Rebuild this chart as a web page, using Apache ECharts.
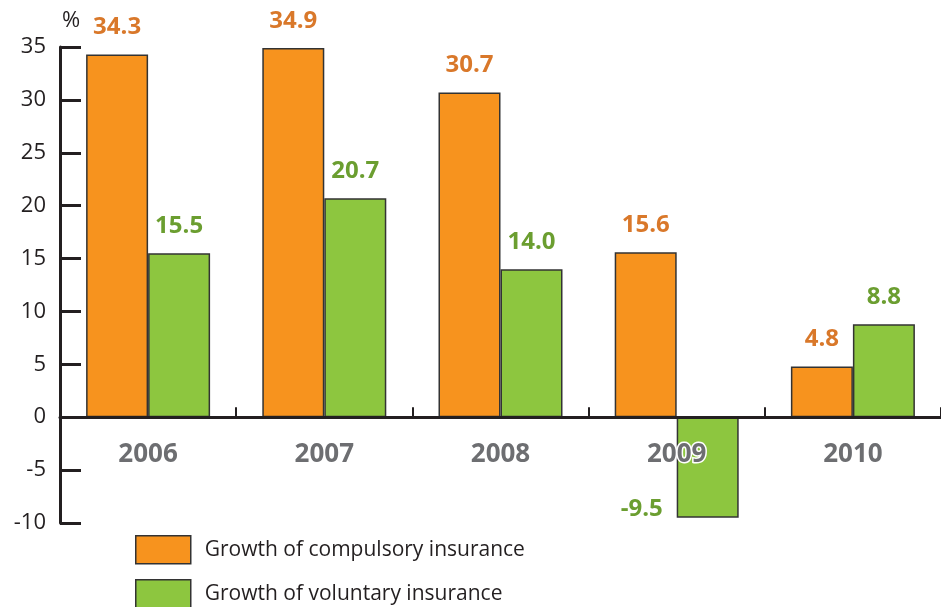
<!DOCTYPE html>
<html>
<head>
<meta charset="utf-8">
<script src="https://cdn.jsdelivr.net/npm/echarts@6/dist/echarts.min.js"></script>
<style>
  html, body { margin: 0; padding: 0; background: #fff; }
  #chart { width: 941px; height: 607px; }
</style>
</head>
<body>
<div id="chart"></div>
<script>
// Insurance premium growth by year, percent
const years = ['2006', '2007', '2008', '2009', '2010'];
const compulsory = [34.3, 34.9, 30.7, 15.6, 4.8];
const voluntary = [15.5, 20.7, 14.0, -9.5, 8.8];
const seriesNames = ['Growth of compulsory insurance', 'Growth of voluntary insurance'];

const FONT = '"Open Sans", sans-serif';
const ORANGE = '#f7931e';
const GREEN = '#8dc63f';
const ORANGE_TEXT = '#d9782a';
const GREEN_TEXT = '#6b9e30';
const INK = '#231f20';
const GRID = { left: 60, right: -2, top: 47, bottom: 84 };

const chart = echarts.init(document.getElementById('chart'));

function valueLabel(color) {
  return {
    show: true,
    position: 'top',
    distance: 15,
    color: color,
    fontFamily: FONT,
    fontWeight: 'bold',
    fontSize: 24,
    formatter: p => p.value.toFixed(1)
  };
}

// One legend block per series, stacked under the plot.
function legendRow(name, top) {
  return {
    orient: 'vertical',
    left: 135,
    top: top,
    padding: 0,
    itemWidth: 55,
    itemHeight: 28,
    selectedMode: false,
    textStyle: { fontFamily: FONT, fontSize: 21, color: INK, padding: [0, 0, 0, 9] },
    data: [{ name: name, icon: 'rect', itemStyle: { borderColor: '#333', borderWidth: 1.5 } }]
  };
}

chart.setOption({
  animation: false,
  textStyle: { fontFamily: FONT },
  grid: Object.assign({ containLabel: false }, GRID),
  legend: [legendRow(seriesNames[0], 535), legendRow(seriesNames[1], 579)],
  xAxis: {
    type: 'category',
    data: years,
    z: 10,
    axisLine: { onZero: false, lineStyle: { color: INK, width: 3 } },
    axisTick: { show: true, inside: true, length: 10, alignWithLabel: false, lineStyle: { color: INK, width: 2 } },
    axisLabel: {
      margin: 24,
      color: '#6d6e71',
      fontFamily: FONT,
      fontWeight: 'bold',
      fontSize: 26,
      textBorderColor: '#fff',
      textBorderWidth: 3
    },
    splitLine: { show: false }
  },
  yAxis: {
    type: 'value',
    min: -10,
    max: 35,
    interval: 5,
    name: '%',
    nameLocation: 'end',
    nameGap: 15,
    nameTextStyle: { fontFamily: FONT, fontSize: 22, color: INK, align: 'left', padding: [0, 0, 0, 2] },
    axisLine: { show: true, lineStyle: { color: INK, width: 3 } },
    axisTick: { show: true, inside: true, length: 21, lineStyle: { color: INK, width: 3 } },
    axisLabel: { margin: 14, color: INK, fontFamily: FONT, fontSize: 22 },
    splitLine: { show: false }
  },
  series: [
    {
      name: seriesNames[0],
      type: 'bar',
      data: compulsory,
      barWidth: 62,
      barGap: '0%',
      itemStyle: { color: ORANGE, borderColor: '#333', borderWidth: 1.5 },
      label: valueLabel(ORANGE_TEXT)
    },
    {
      name: seriesNames[1],
      type: 'bar',
      data: voluntary.map(v => v < 0
        ? { value: v, label: { position: 'left', distance: 14, offset: [0, 42] } }
        : v),
      barWidth: 62,
      itemStyle: { color: GREEN, borderColor: '#333', borderWidth: 1.5 },
      label: valueLabel(GREEN_TEXT)
    }
  ]
});

// Lift the category axis (line, ticks and year labels) up to the zero line.
const zeroY = chart.convertToPixel({ yAxisIndex: 0 }, 0);
const gridBottomY = chart.getHeight() - GRID.bottom;
chart.setOption({ xAxis: { offset: -(gridBottomY - zeroY) } });
</script>
</body>
</html>
